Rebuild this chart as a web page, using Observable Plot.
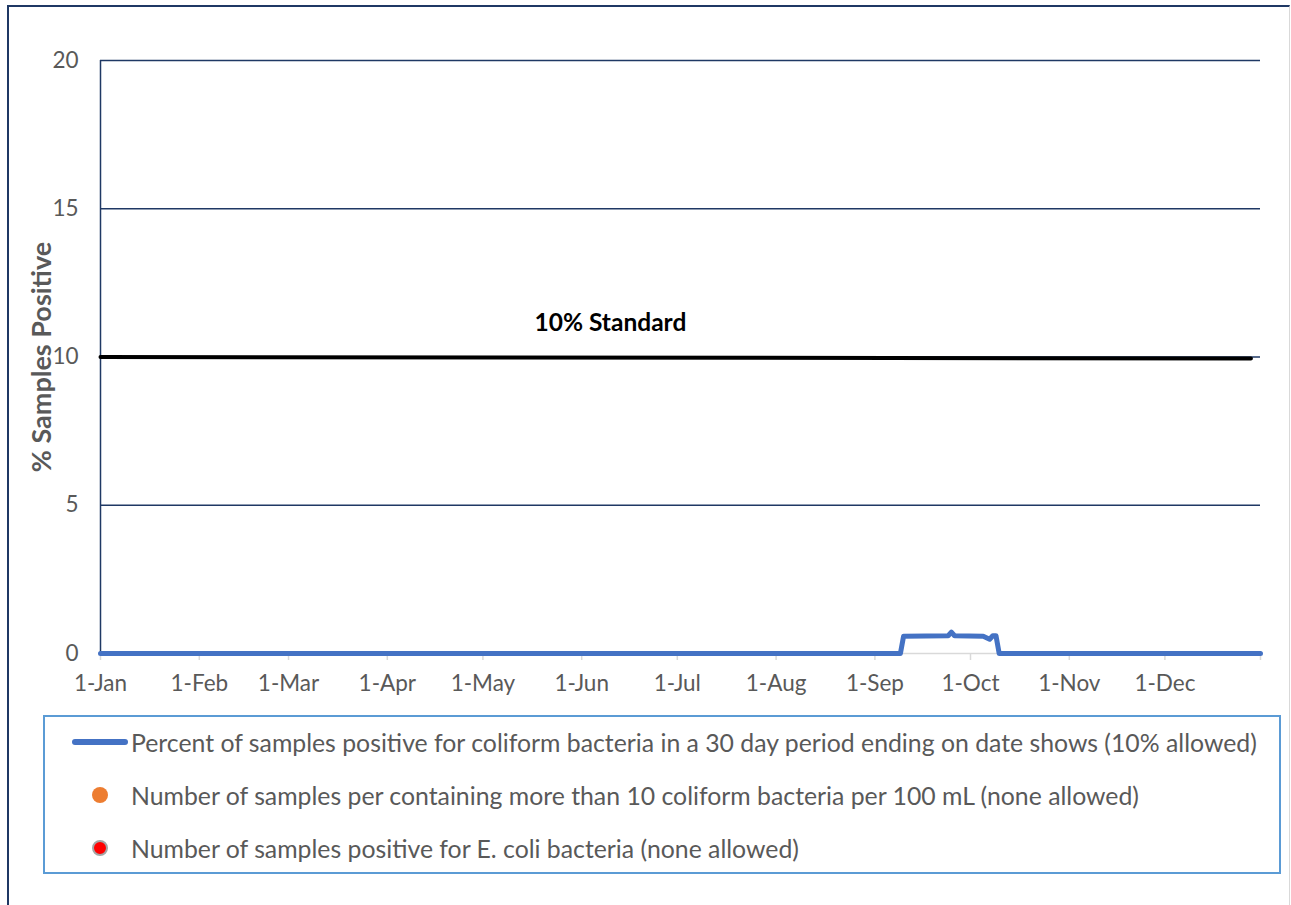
<!DOCTYPE html>
<html>
<head>
<meta charset="utf-8">
<script src="https://cdn.jsdelivr.net/npm/d3@7"></script>
<script src="https://cdn.jsdelivr.net/npm/@observablehq/plot@0.6"></script>
<style>
  html, body { margin: 0; padding: 0; background: #fff; }
  #wrap { position: relative; width: 1291px; height: 905px; overflow: hidden; font-family: Lato, "Open Sans", sans-serif; }
  #frame { position: absolute; left: 7px; top: 5px; width: 1280px; height: 1000px;
           border-left: 2px solid #1f3864; border-top: 2px solid #1f3864; border-right: 1px solid #d9d9d9; }
  #chart { position: absolute; left: 0; top: 0; }
  #ytitle { position: absolute; left: 40px; top: 357px; transform: translate(-50%, -50%) rotate(-90deg);
            white-space: nowrap; font-weight: bold; font-size: 27px; color: #595959; }
  #legend { position: absolute; left: 43px; top: 715px; width: 1234px; height: 155px; border: 2px solid #5b9bd5; box-sizing: content-box; }
  .item { position: absolute; white-space: nowrap; font-size: 24.8px; color: #595959; transform: translateY(-50%); }
  .sw { position: absolute; }
</style>
</head>
<body>
<div id="wrap">
  <div id="frame"></div>
  <div id="chart"></div>
  <div id="ytitle"></div>
  <div id="legend"></div>
</div>
<script>
// ---- data ----
const xStart = "2021-01-01";
const xEnd = "2021-12-31";
const xTickDates = ["2021-01-01","2021-02-01","2021-03-01","2021-04-01","2021-05-01","2021-06-01",
                    "2021-07-01","2021-08-01","2021-09-01","2021-10-01","2021-11-01","2021-12-01","2021-12-31"];
const yTicks = [0, 5, 10, 15, 20];
const gridValues = [5, 10, 15, 20];

// Percent of samples positive for coliform bacteria (30-day period)
const percentDates = ["2021-01-01","2021-09-09","2021-09-10","2021-09-24","2021-09-25","2021-09-26",
                      "2021-10-05","2021-10-07","2021-10-08","2021-10-09","2021-10-10","2021-12-31"];
const percentValues = [0, 0, 0.58, 0.6, 0.72, 0.6, 0.58, 0.48, 0.6, 0.6, 0, 0];

// 10% standard
const standardDates = ["2021-01-01", "2021-12-28"];
const standardValues = [10, 9.95];
const standardLabel = [{date: "2021-06-10", value: 10, text: "10% Standard"}];

const yTitle = "% Samples Positive";
const legendItems = [
  {type: "line", color: "#4472c4", label: "Percent of samples positive for coliform bacteria in a 30 day period ending on date shows (10% allowed)"},
  {type: "dot", color: "#ed7d31", label: "Number of samples per containing more than 10 coliform bacteria per 100 mL (none allowed)"},
  {type: "dotRing", color: "#ff0000", label: "Number of samples positive for E. coli bacteria (none allowed)"}
];

// ---- build ----
const parse = d3.utcParse("%Y-%m-%d");
const pct = percentDates.map((d, i) => ({date: parse(d), value: percentValues[i]}));
const std = standardDates.map((d, i) => ({date: parse(d), value: standardValues[i]}));
const lbl = standardLabel.map(d => ({...d, date: parse(d.date)}));
const ticks = xTickDates.map(parse);
const endTick = parse(xEnd).getTime();
const fmt = d3.utcFormat("%-d-%b");

const chart = Plot.plot({
  width: 1291,
  height: 700,
  marginLeft: 100,
  marginRight: 31,
  marginTop: 60,
  marginBottom: 47,
  style: {fontFamily: "Lato, 'Open Sans', sans-serif", fontSize: "22.5px", color: "#595959", background: "transparent", overflow: "visible"},
  x: {type: "utc", domain: [parse(xStart), parse(xEnd)]},
  y: {domain: [0, 20]},
  marks: [
    Plot.ruleY(gridValues, {stroke: "#1f3864", strokeWidth: 1.4}),
    Plot.ruleY([0], {stroke: "#d9d9d9", strokeWidth: 1.5}),
    Plot.ruleX([parse(xStart)], {y1: 0, y2: 20, stroke: "#1f3864", strokeWidth: 1.5}),
    Plot.axisY({ticks: yTicks, tickSize: 0, tickPadding: 22, label: null, fill: "#595959"}),
    Plot.axisX({ticks, tickSize: 7, tickPadding: 15, stroke: "#d9d9d9", strokeWidth: 1.5, fill: "#595959", label: null,
                tickFormat: d => d.getTime() === endTick ? "" : fmt(d)}),
    Plot.line(std, {x: "date", y: "value", stroke: "#000", strokeWidth: 4}),
    Plot.text(lbl, {x: "date", y: "value", text: "text", dy: -34, fontWeight: "bold", fill: "#000", fontSize: 24.5}),
    Plot.line(pct, {x: "date", y: "value", stroke: "#4472c4", strokeWidth: 5, strokeLinecap: "round", strokeLinejoin: "round"})
  ]
});
document.getElementById("chart").appendChild(chart);
document.getElementById("ytitle").textContent = yTitle;

// legend
const legend = document.getElementById("legend");
const rowY = [25, 78, 131];
legendItems.forEach((it, i) => {
  const y = rowY[i];
  const sw = document.createElement("div");
  sw.className = "sw";
  if (it.type === "line") {
    Object.assign(sw.style, {left: "27px", top: (y - 3) + "px", width: "56px", height: "6px", borderRadius: "3px", background: it.color});
  } else if (it.type === "dot") {
    Object.assign(sw.style, {left: "47px", top: (y - 8) + "px", width: "16px", height: "16px", borderRadius: "50%", background: it.color});
  } else {
    Object.assign(sw.style, {left: "47px", top: (y - 8) + "px", width: "12px", height: "12px", borderRadius: "50%", background: it.color, border: "2px solid #a5a5a5"});
  }
  legend.appendChild(sw);
  const t = document.createElement("div");
  t.className = "item";
  t.style.left = "86px";
  t.style.top = y + "px";
  t.textContent = it.label;
  legend.appendChild(t);
});
</script>
</body>
</html>
